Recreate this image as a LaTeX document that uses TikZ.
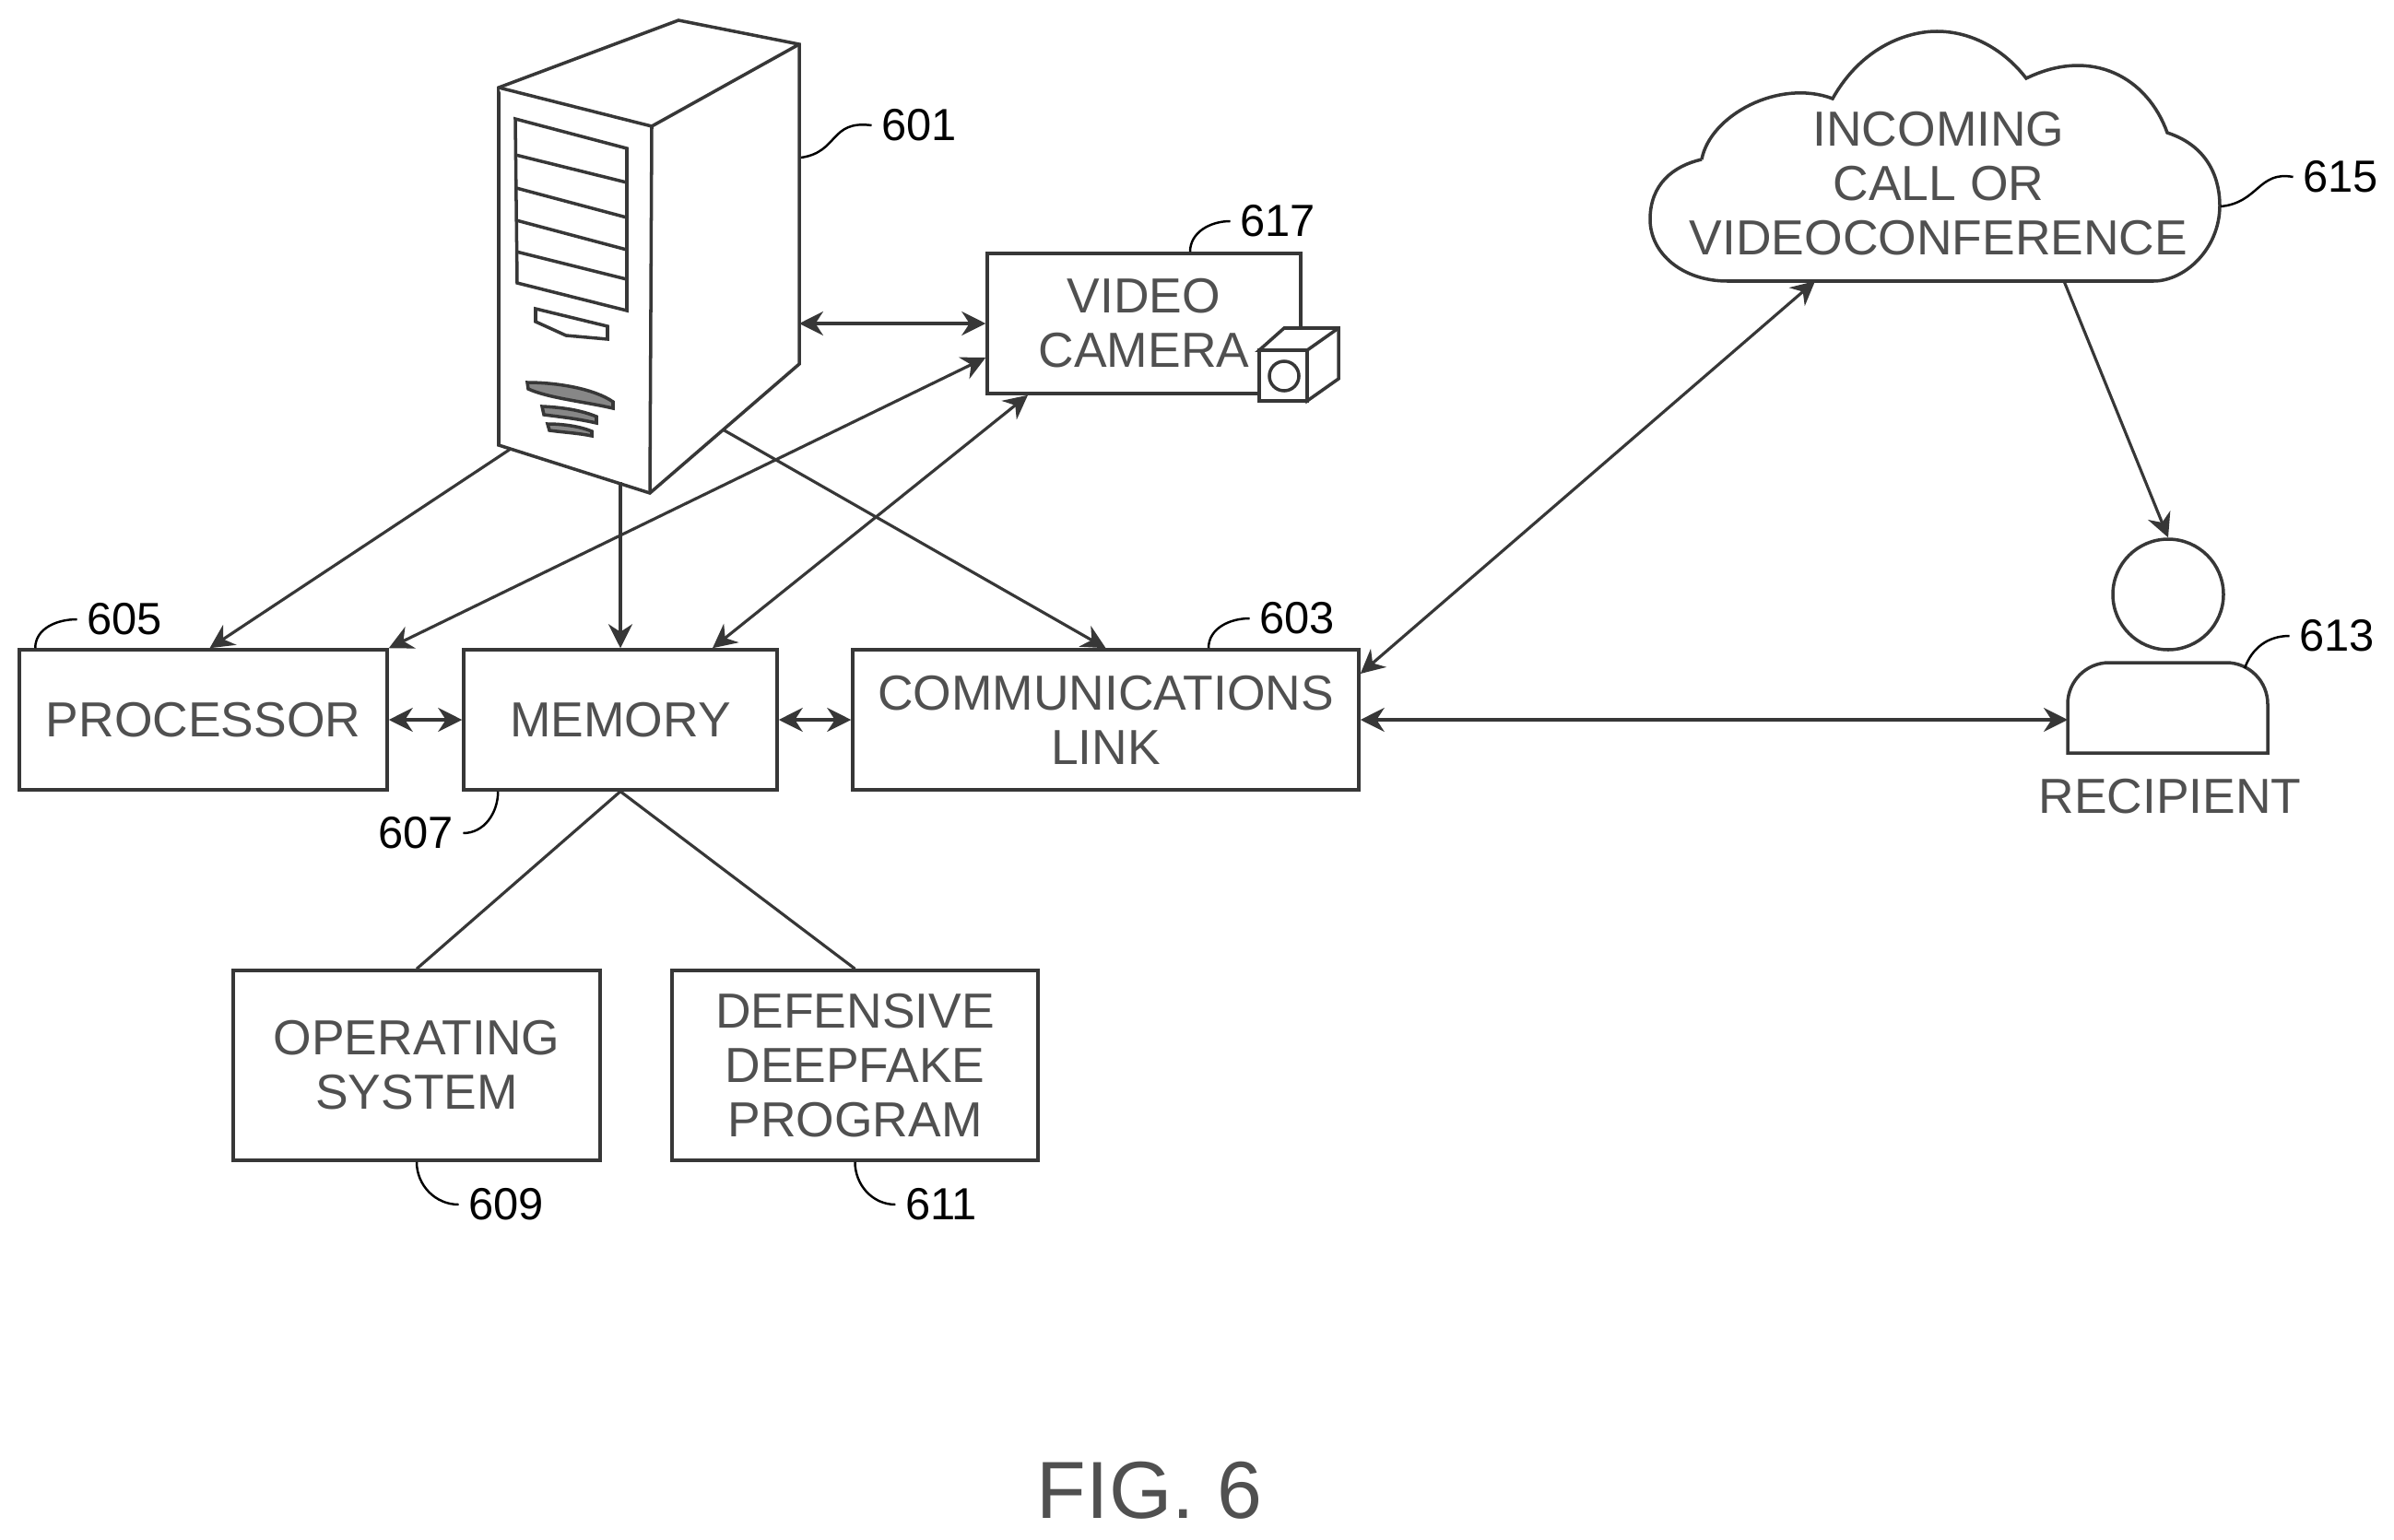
\documentclass[tikz,border=0pt]{standalone}
\usepackage{fontspec}
\setmainfont{Liberation Sans}
\usetikzlibrary{arrows.meta,positioning}
\definecolor{colline}{RGB}{55,55,55}
\definecolor{coltext}{RGB}{80,80,80}
\tikzset{
  % BOXES
  frameBox/.style={
    rectangle,
    draw=colline,
    line width=1pt,
    fill=white,
    align=center,
    text = coltext,
    font = \fontsize{15.2}{16.8}\selectfont
  },
  % PLAIN TEXT
  frameText/.style={
    align=center,
    inner sep=0pt,
    text = coltext,
    font = \fontsize{15.2}{16.8}\selectfont
  },
  % REFERENCE NUMBERS
  frameLabel/.style={
    inner sep=0.1cm,
    text = black,
    font = \fontsize{13.9}{15}\selectfont
  },
  % OUTLINES
  lineShape/.style={
    draw=colline,line width=1pt,fill=white
  },
  % MAIN DATA FLOWS
  lineData/.style={
    draw=colline,line width=0.9pt,-{Stealth[length=2.6mm,width=2.6mm]}
  },
  lineBoth/.style={
    draw=colline,line width=0.9pt,{Stealth[length=2.6mm,width=2.6mm]}-{Stealth[length=2.6mm,width=2.6mm]}
  },
  linePlain/.style={
    draw=colline,line width=0.9pt
  },
  lineLead/.style={
    draw=black,line width=0.7pt
  }
}

\begin{document}
\begin{tikzpicture}

\useasboundingbox (0,0) rectangle (25.97,-16.71);

% Tower
\coordinate (tower_top) at (7.36,-0.22);
\coordinate (tower_back) at (8.67,-0.48);
\coordinate (tower_left) at (5.41,-0.95);
\coordinate (tower_mid) at (7.07,-1.37);
\coordinate (tower_right) at (8.67,-3.95);
\coordinate (tower_bottom) at (7.05,-5.35);
\coordinate (tower_low) at (5.41,-4.83);
\path [lineShape] (tower_left) -- (tower_top) -- (tower_back) -- (tower_right) -- (tower_bottom) -- (tower_low) -- cycle ;
\path [lineShape] (tower_left) -- (tower_mid) -- (tower_bottom) ;
\path [lineShape] (tower_mid) -- (tower_back) ;

% Drive bays
\path [lineShape] (5.59,-1.29) -- (6.80,-1.61) -- (6.80,-3.37) -- (5.61,-3.07) -- cycle ;
\path [lineShape] (5.59,-1.68) -- (6.80,-1.98) ;
\path [lineShape] (5.60,-2.04) -- (6.80,-2.36) ;
\path [lineShape] (5.60,-2.39) -- (6.80,-2.71) ;
\path [lineShape] (5.60,-2.73) -- (6.80,-3.03) ;
\path [lineShape] (5.81,-3.35) -- (6.59,-3.54) -- (6.59,-3.68) -- (6.14,-3.64) -- (5.81,-3.49) -- cycle ;

% Vents
\path [lineShape,fill=colline!60] (5.72,-4.15) .. controls (6.05,-4.15) and (6.45,-4.22) .. (6.65,-4.36) -- (6.65,-4.43) .. controls (6.35,-4.36) and (5.95,-4.32) .. (5.73,-4.22) -- cycle ;
\path [lineShape,fill=colline!60] (5.88,-4.41) .. controls (6.10,-4.42) and (6.30,-4.45) .. (6.47,-4.52) -- (6.47,-4.59) .. controls (6.25,-4.54) and (6.05,-4.52) .. (5.90,-4.50) -- cycle ;
\path [lineShape,fill=colline!60] (5.94,-4.60) .. controls (6.12,-4.60) and (6.30,-4.63) .. (6.42,-4.68) -- (6.42,-4.73) .. controls (6.28,-4.70) and (6.10,-4.69) .. (5.96,-4.67) -- cycle ;

% Boxes
\node [frameBox,minimum width=3.99cm,minimum height=1.52cm] (processor) at (2.205,-7.81) {PROCESSOR} ;
\node [frameBox,minimum width=3.40cm,minimum height=1.52cm] (memory) at (6.73,-7.81) {MEMORY} ;
\node [frameBox,minimum width=5.49cm,minimum height=1.52cm] (comm_link) at (11.995,-7.81) {COMMUNICATIONS \\ LINK} ;
\node [frameBox,minimum width=3.98cm,minimum height=2.06cm] (op_system) at (4.52,-11.56) {OPERATING \\ SYSTEM} ;
\node [frameBox,minimum width=3.97cm,minimum height=2.06cm] (deepfake) at (9.275,-11.56) {DEFENSIVE \\ DEEPFAKE \\ PROGRAM} ;
\node [frameBox,minimum width=3.40cm,minimum height=1.52cm] (camera) at (12.41,-3.51) {VIDEO \\ CAMERA} ;

% Camera body
\path [lineShape] (13.66,-3.80) -- (13.93,-3.56) -- (14.52,-3.56) -- (14.52,-4.11) -- (14.18,-4.35) -- (14.18,-3.80) -- cycle ;
\path [lineShape] (14.18,-3.80) -- (14.52,-3.56) ;
\path [lineShape] (13.66,-3.80) rectangle (14.18,-4.35) ;
\node [circle,draw=colline,line width=1pt,minimum size=0.32cm,inner sep=0pt] (lens) at (13.93,-4.08) {} ;

% Cloud
\path [lineShape] (18.46,-1.73) .. controls (18.55,-1.25) and (19.30,-0.85) .. (19.88,-1.07)
  .. controls (20.20,-0.50) and (20.70,-0.34) .. (21.01,-0.34)
  .. controls (21.40,-0.34) and (21.75,-0.55) .. (21.98,-0.85)
  .. controls (22.70,-0.50) and (23.30,-0.85) .. (23.51,-1.44)
  .. controls (24.00,-1.60) and (24.08,-2.00) .. (24.08,-2.23)
  .. controls (24.08,-2.70) and (23.70,-3.05) .. (23.36,-3.05)
  -- (18.74,-3.05) .. controls (18.25,-3.05) and (17.90,-2.75) .. (17.90,-2.38)
  .. controls (17.90,-2.00) and (18.15,-1.80) .. (18.46,-1.73) ;
\node [frameText] (incoming) at (21.03,-1.99) {INCOMING \\ CALL OR \\ VIDEOCONFERENCE} ;
\coordinate (cloud_in) at (19.69,-3.05);
\coordinate (cloud_out) at (22.39,-3.05);

% Recipient
\node [circle,draw=colline,line width=1pt,minimum size=1.2cm,inner sep=0pt] (head) at (23.52,-6.45) {} ;
\path [lineShape] (22.43,-8.17) -- (22.43,-7.64) arc (180:90:0.45) -- (24.15,-7.19) arc (90:0:0.45) -- (24.60,-8.17) -- cycle ;
\coordinate (body_in) at (22.43,-7.81);
\node [frameText] (recipient) at (23.54,-8.64) {RECIPIENT} ;

% Start points on the tower
\coordinate (tower_proc) at (5.54,-4.87);
\coordinate (tower_mem) at (6.73,-5.23);
\coordinate (tower_cam) at (8.67,-3.51);
\coordinate (tower_comm) at (7.84,-4.66);

% Lines from the tower
\path [lineData] (tower_proc) -- ([xshift=0.07cm]processor.north) ;
\path [lineData] (tower_mem) -- (memory.north) ;
\path [lineData] (tower_comm) -- (comm_link.north) ;
\path [lineBoth] (tower_cam) -- (camera.west) ;

% Lines to the camera
\path [lineBoth] (processor.north east) -- ([yshift=-0.37cm]camera.west) ;
\path [lineBoth] ([xshift=1.00cm]memory.north) -- ([xshift=-1.26cm]camera.south) ;

% Lines between boxes
\path [lineBoth] (processor.east) -- (memory.west) ;
\path [lineBoth] (memory.east) -- (comm_link.west) ;
\path [linePlain] (memory.south) -- (op_system.north) ;
\path [linePlain] (memory.south) -- (deepfake.north) ;

% Lines on the right
\path [lineBoth] ([yshift=0.5cm]comm_link.east) -- (cloud_in) ;
\path [lineBoth] (comm_link.east) -- (body_in) ;
\path [lineData] (cloud_out) -- (head.north) ;

% Reference numbers
\node [frameLabel] (lab601) at (9.97,-1.36) {601} ;
\node [frameLabel] (lab603) at (14.07,-6.71) {603} ;
\node [frameLabel] (lab605) at (1.35,-6.72) {605} ;
\node [frameLabel] (lab607) at (4.51,-9.04) {607} ;
\node [frameLabel] (lab609) at (5.49,-13.07) {609} ;
\node [frameLabel] (lab611) at (10.21,-13.07) {611} ;
\node [frameLabel] (lab613) at (25.35,-6.90) {613} ;
\node [frameLabel] (lab615) at (25.39,-1.92) {615} ;
\node [frameLabel] (lab617) at (13.86,-2.40) {617} ;

% Leader lines
\path [lineLead] (8.69,-1.71) .. controls (9.10,-1.65) and (9.00,-1.30) .. (lab601.west) ;
\path [lineLead] ([xshift=1.115cm]comm_link.north) to[out=90,in=180] (lab603.west) ;
\path [lineLead] ([xshift=0.19cm]processor.north west) to[out=90,in=180] (lab605.west) ;
\path [lineLead] ([xshift=0.39cm]memory.south west) to[out=-90,in=0] (lab607.east) ;
\path [lineLead] (op_system.south) to[out=-90,in=180] (lab609.west) ;
\path [lineLead] (deepfake.south) to[out=-90,in=180] (lab611.west) ;
\path [lineLead] (24.35,-7.25) to[out=70,in=180] (lab613.west) ;
\path [lineLead] (24.09,-2.24) .. controls (24.50,-2.20) and (24.50,-1.85) .. (lab615.west) ;
\path [lineLead] ([xshift=0.50cm]camera.north) to[out=90,in=180] (lab617.west) ;

% Title
\node [frameText,font=\fontsize{25}{28}\selectfont] (fig_title) at (12.47,-16.17) {FIG. 6} ;

\end{tikzpicture}
\end{document}
